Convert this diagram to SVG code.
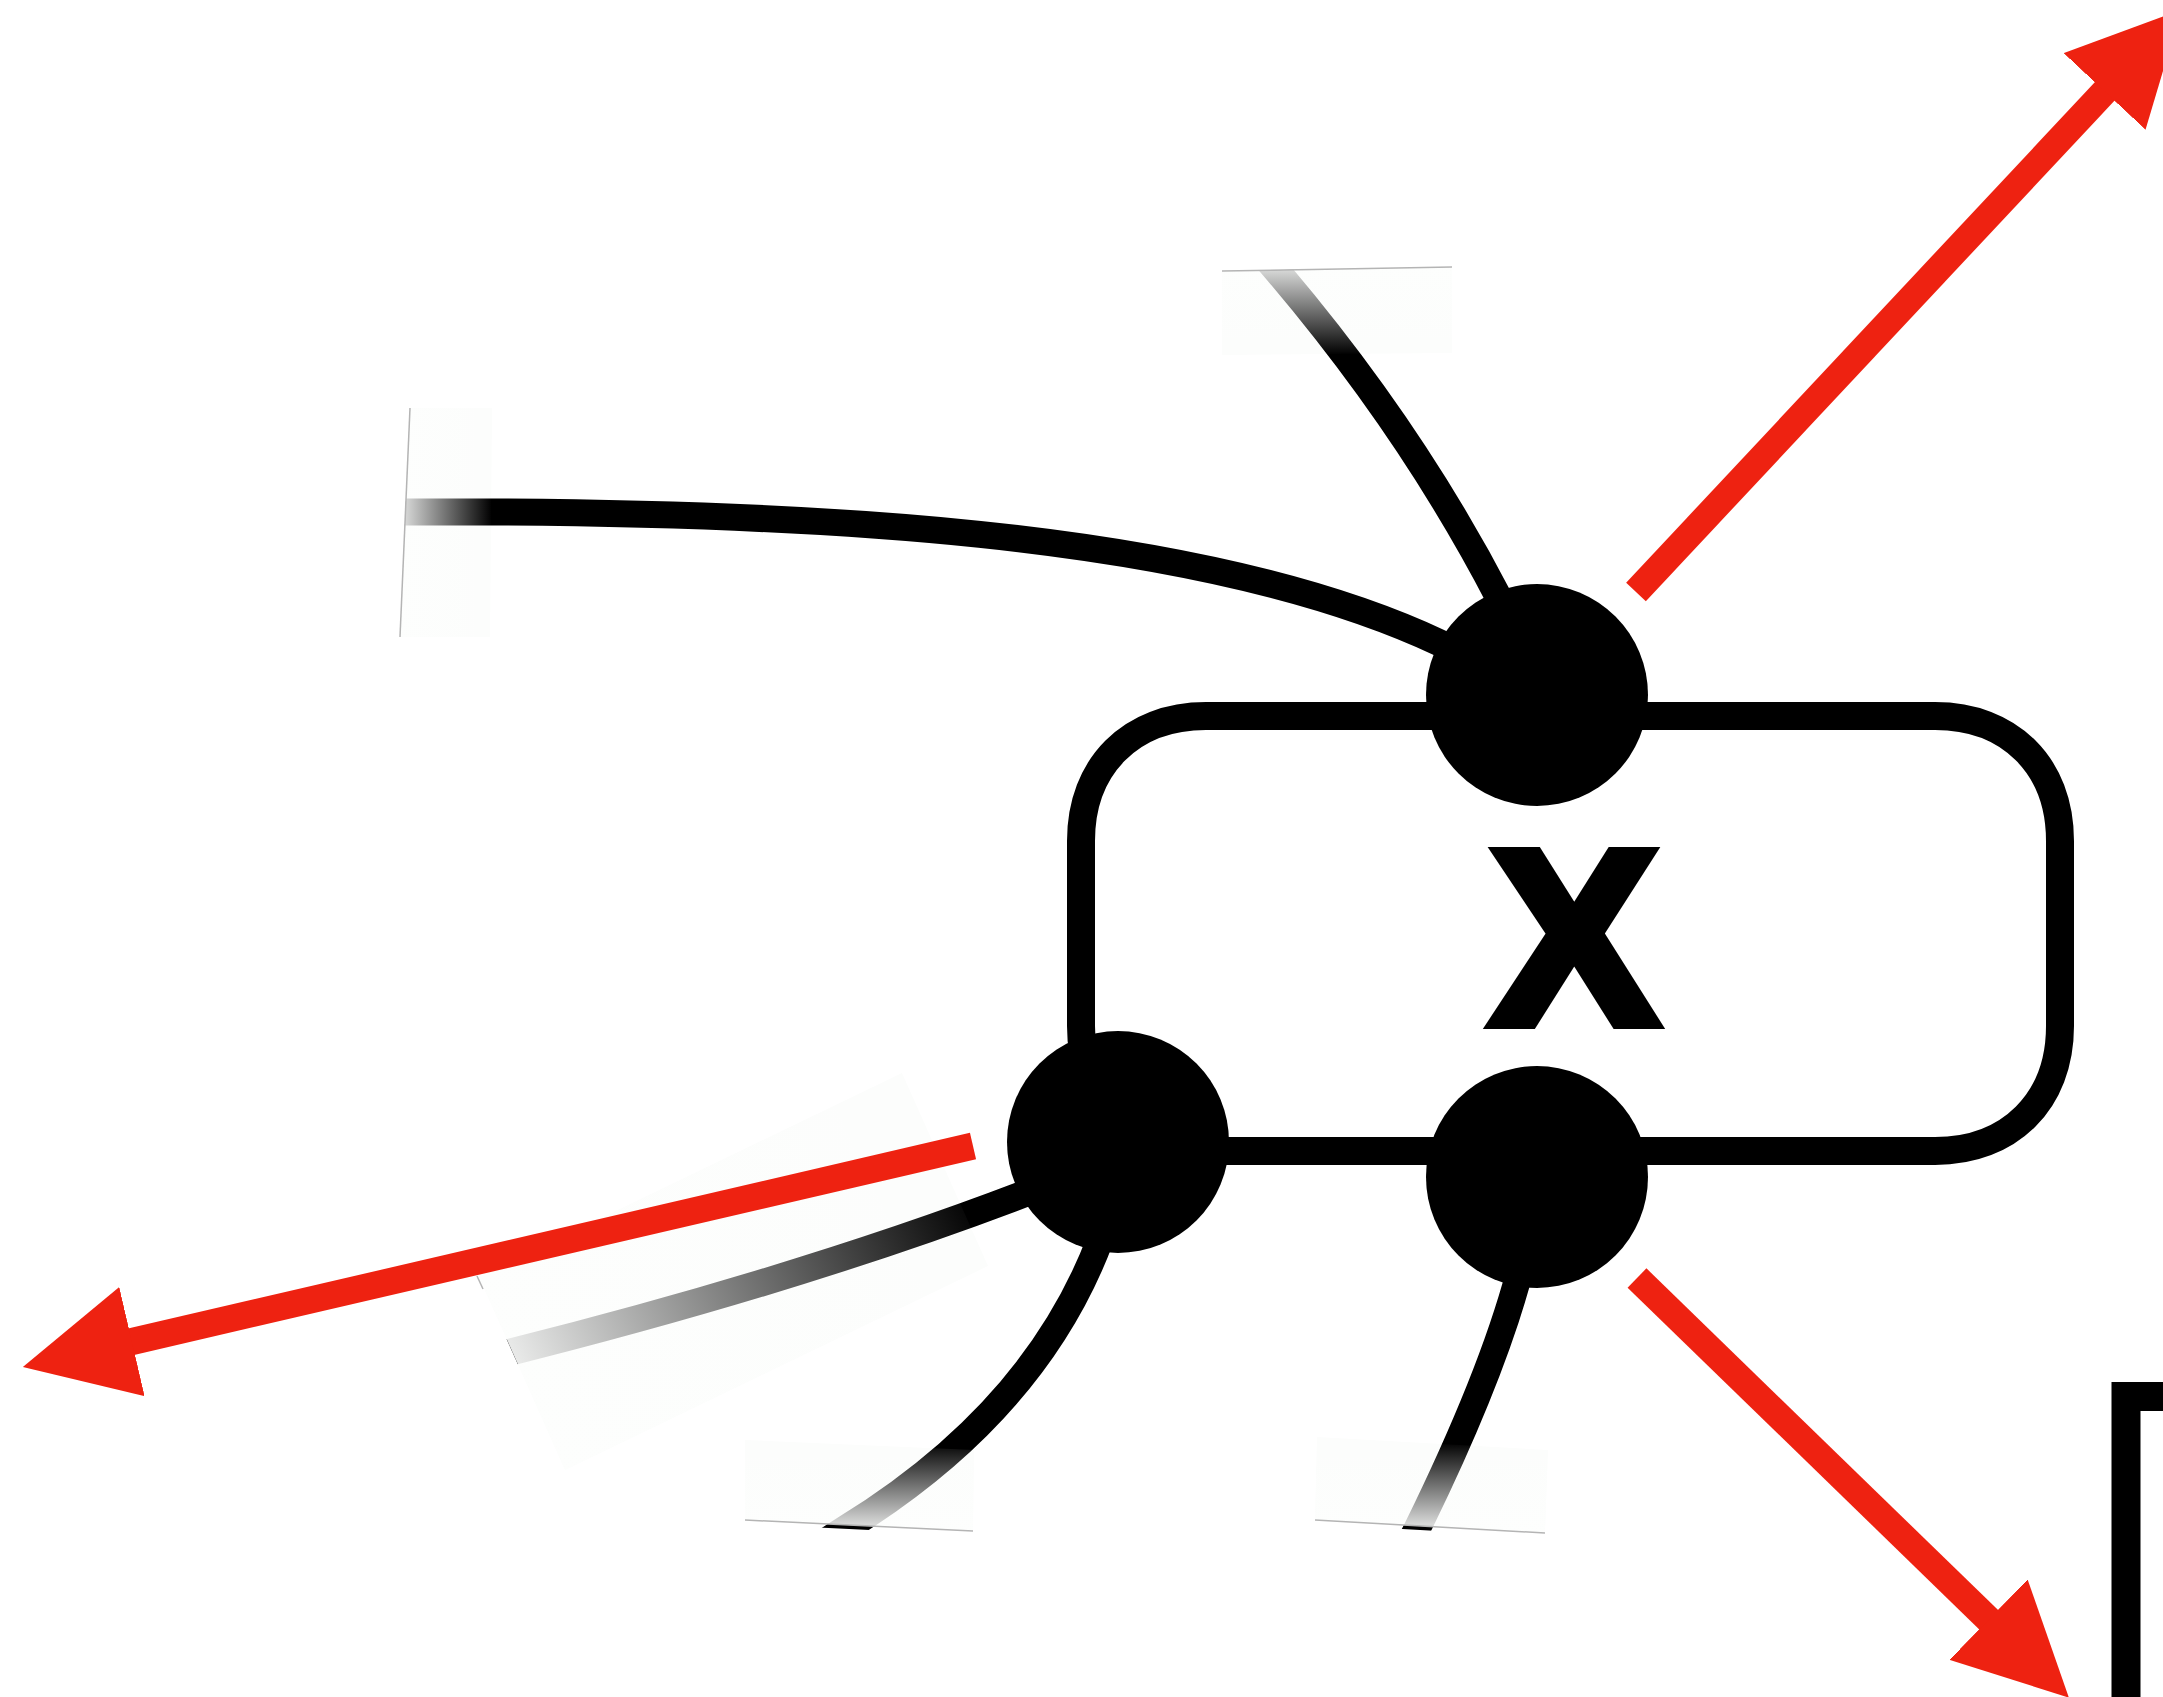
<svg xmlns="http://www.w3.org/2000/svg" width="2163" height="1697" viewBox="0 0 2163 1697">
  <defs>
    <style>
      .wire{fill:none;stroke:#000;stroke-width:27;stroke-linecap:butt}
      .frame{fill:none;stroke:#000;stroke-width:28}
      .dot{fill:#000}
      .red{fill:none;stroke:#ee2211;stroke-width:27;stroke-linecap:butt}
      .panelbg{fill:#fcfdfc}
      .edge{fill:none;stroke:#b4b4b4;stroke-width:1.5}
      .label{font-family:"Liberation Sans",Arial,Helvetica,sans-serif;font-weight:bold;font-size:247px;fill:#000;stroke:#000;stroke-width:12;stroke-linejoin:miter;text-anchor:middle}
    </style>
    <marker id="head" markerUnits="userSpaceOnUse" markerWidth="112" markerHeight="112" viewBox="0 0 112 112" refX="2" refY="56" orient="auto">
      <path d="M0,0 L112,56 L0,112 Z" fill="#ee2211"/>
    </marker>
    <linearGradient id="gA" gradientUnits="userSpaceOnUse" x1="405" y1="0" x2="492" y2="0">
      <stop offset="0" stop-color="#fdfefd" stop-opacity="0.85"/>
      <stop offset="1" stop-color="#fdfefd" stop-opacity="0"/>
    </linearGradient>
    <linearGradient id="gB" gradientUnits="userSpaceOnUse" x1="0" y1="270" x2="0" y2="355">
      <stop offset="0" stop-color="#fdfefd" stop-opacity="0.85"/>
      <stop offset="1" stop-color="#fdfefd" stop-opacity="0"/>
    </linearGradient>
    <linearGradient id="gC" gradientUnits="userSpaceOnUse" x1="522" y1="1373" x2="960" y2="1165">
      <stop offset="0" stop-color="#fdfefd" stop-opacity="0.92"/>
      <stop offset="1" stop-color="#fdfefd" stop-opacity="0"/>
    </linearGradient>
    <linearGradient id="gD" gradientUnits="userSpaceOnUse" x1="0" y1="1442" x2="0" y2="1524">
      <stop offset="0" stop-color="#fdfefd" stop-opacity="0"/>
      <stop offset="1" stop-color="#fdfefd" stop-opacity="0.85"/>
    </linearGradient>
    <clipPath id="cA"><polygon points="414.7,300 1600,300 1600,800 392.9,800"/></clipPath>
    <clipPath id="cB"><polygon points="1100,273.1 1700,262.6 1700,900 1100,900"/></clipPath>
    <clipPath id="cC"><polygon points="400,1100 1200,1100 1200,1600 623,1600"/></clipPath>
    <clipPath id="cD"><polygon points="600,1000 1300,1000 1300,1550.8 600,1517"/></clipPath>
    <clipPath id="cE"><polygon points="1300,1000 1700,1000 1700,1545.8 1300,1523.2"/></clipPath>
  </defs>
  <rect width="2163" height="1697" fill="#fff"/>

  <g id="fade-panels-back">
    <polygon class="panelbg" points="410,408 492,408 490,637 400,637"/>
    <polygon class="panelbg" points="1222,271 1452,267 1452,353 1222,355"/>
    <polygon class="panelbg" points="479,1277 902,1073 988,1266 565,1470"/>
    <polygon class="panelbg" points="745,1440 974,1450 973,1531 745,1520"/>
    <polygon class="panelbg" points="1317,1437 1548,1450 1545,1533 1315,1520"/>
  </g>

  <g id="node-box">
    <path class="frame" d="M1206 716 L1935 716 C2010 716 2060 766 2060 841 L2060 1026 C2060 1101 2010 1151 1935 1151 L1206 1151 C1131 1151 1081 1101 1081 1026 L1081 841 C1081 766 1131 716 1206 716 Z"/>
    <text class="label" x="1574" y="1023">X</text>
  </g>

  <g id="connectors">
    <path class="wire" clip-path="url(#cA)" d="M398 512 C800 510 1200 530 1440 643 L1490 670"/>
    <path class="wire" clip-path="url(#cB)" d="M1265 257 Q1408 422 1500 600"/>
    <path class="wire" clip-path="url(#cC)" d="M495 1356 Q820 1275 1060 1180"/>
    <path class="wire" clip-path="url(#cD)" d="M1100 1240 Q1035 1412 845 1529 L820 1545"/>
    <path class="wire" clip-path="url(#cE)" d="M1525 1250 Q1500 1360 1417 1529 L1405 1552"/>
  </g>

  <g id="fade-panels-front">
    <polygon fill="url(#gA)" points="410,408 492,408 490,637 400,637"/>
    <line class="edge" x1="410" y1="408" x2="400" y2="637"/>
    <polygon fill="url(#gB)" points="1222,271 1452,267 1452,353 1222,355"/>
    <line class="edge" x1="1222" y1="271" x2="1452" y2="267"/>
    <polygon fill="url(#gC)" points="479,1277 902,1073 988,1266 565,1470"/>
    <line class="edge" x1="477" y1="1276" x2="483" y2="1289"/>
    <polygon fill="url(#gD)" points="745,1440 974,1450 973,1531 745,1520"/>
    <line class="edge" x1="745" y1="1520" x2="973" y2="1531"/>
    <polygon fill="url(#gD)" points="1317,1437 1548,1450 1545,1533 1315,1520"/>
    <line class="edge" x1="1315" y1="1520" x2="1545" y2="1533"/>
  </g>

  <g id="node-top">
    <circle class="dot" cx="1537" cy="695" r="111"/>
  </g>
  <g id="node-bottom-left">
    <circle class="dot" cx="1118" cy="1142" r="111"/>
  </g>
  <g id="node-bottom-right">
    <circle class="dot" cx="1537" cy="1177" r="111"/>
  </g>

  <g id="arrows">
    <line class="red" x1="1636" y1="592" x2="2106" y2="90" marker-end="url(#head)"/>
    <line class="red" x1="1637" y1="1278" x2="1990" y2="1621" marker-end="url(#head)"/>
    <line class="red" x1="973" y1="1146" x2="130" y2="1342" marker-end="url(#head)"/>
  </g>

  <g id="node-bracket">
    <rect x="2126" y="1396.5" width="300" height="400" fill="none" stroke="#000" stroke-width="29"/>
  </g>
</svg>
